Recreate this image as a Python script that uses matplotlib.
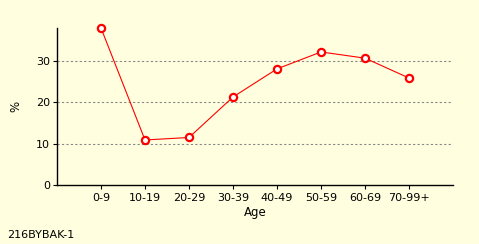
import matplotlib
matplotlib.use("Agg")
import matplotlib.pyplot as plt

categories = ["0-9", "10-19", "20-29", "30-39", "40-49", "50-59", "60-69", "70-99+"]
values = [38.0, 10.9, 11.5, 21.3, 28.1, 32.2, 30.7, 25.9]
yticks = [0, 10, 20, 30]

bg = "#FFFFE0"
fig = plt.figure(figsize=(4.79, 2.44), dpi=100, facecolor=bg)
ax = fig.add_axes([57/479, 59/244, 396/479, 157/244], facecolor=bg)

x = list(range(len(categories)))
ax.plot(x, values, color="red", lw=0.8, marker="o", ms=5.2, mfc="white",
        mec="red", mew=1.6, zorder=3, clip_on=False)

ax.set_xlim(-1, 8)
ax.set_ylim(0, 38)
ax.set_xticks(x)
ax.set_xticklabels(categories)
ax.set_yticks(yticks)
ax.tick_params(axis="both", labelsize=8, length=3, width=0.8, color="black", pad=2)
ax.tick_params(axis="x", pad=3)
for t in yticks[1:]:
    ax.axhline(t, color="#888888", lw=0.8, ls=(0, (2, 2)), zorder=1)

for s in ["top", "right"]:
    ax.spines[s].set_visible(False)
ax.spines["left"].set_linewidth(1.0)
ax.spines["bottom"].set_linewidth(1.0)
ax.spines["bottom"].set_linestyle((0, (2, 1)))

ax.set_xlabel("Age", fontsize=8.5, labelpad=2)
ax.set_ylabel("%", fontsize=8.5, labelpad=10)

fig.text(7/479, 1 - 235/244, "216BYBAK-1", fontsize=8, va="center", ha="left")

fig.savefig("out.png", dpi=100, facecolor=bg)
